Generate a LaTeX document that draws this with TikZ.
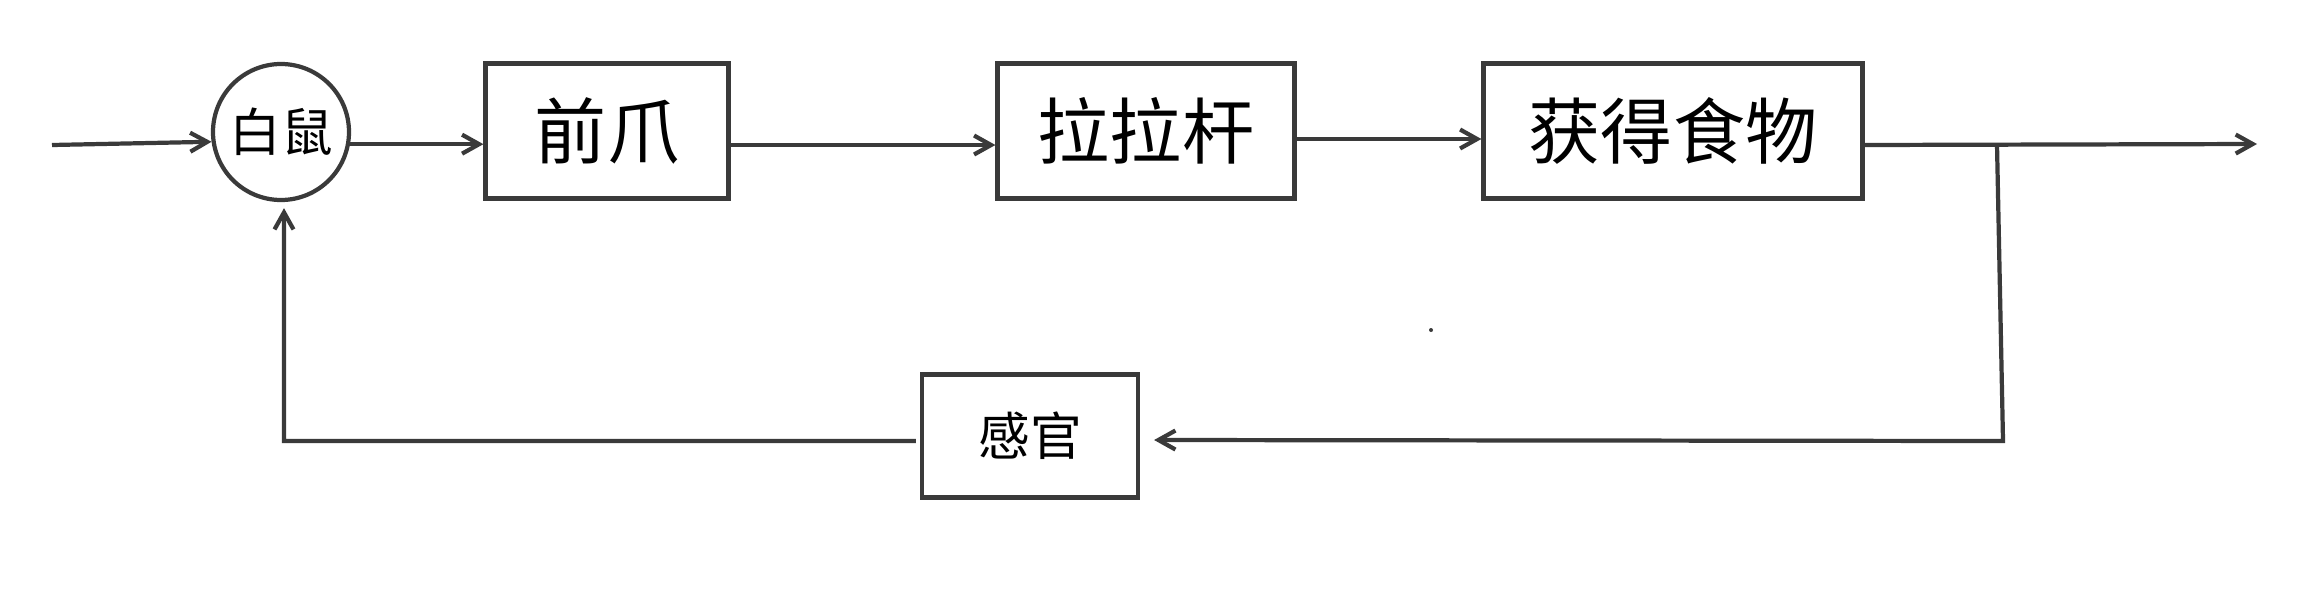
\documentclass[tikz,border=0pt]{standalone}
\usepackage{fontspec}
\newfontfamily\cjk{Noto Sans CJK SC}
\usepackage{tikz}
\usetikzlibrary{shapes,positioning,arrows.meta}
\definecolor{lngray}{HTML}{3A3A3A}

\begin{document}
\begin{tikzpicture}[>={Straight Barb[length=1.7mm,width=1.9mm]}]
\tikzstyle{blk}=[draw=lngray,line width=1.2pt,minimum height=1.35cm,text=black,font=\cjk\fontsize{20.5}{24}\selectfont]
\tikzstyle{circ}=[draw=lngray,line width=1.2pt,circle,minimum size=1.36cm,inner sep=0pt,text=black,font=\cjk\fontsize{14.7}{18}\selectfont]
\tikzstyle{ln}=[draw=lngray,line width=1.2pt]
\useasboundingbox (0,0) rectangle (23.21,6.08);
\node[circ] (mouse) at (2.81,4.76) {白鼠};
\node[blk,minimum width=2.43cm] (paw) at (6.07,4.77) {前爪};
\node[blk,minimum width=2.97cm] (lever) at (11.46,4.77) {拉拉杆};
\node[blk,minimum width=3.79cm] (food) at (16.73,4.77) {获得食物};
\node[blk,minimum width=2.16cm,minimum height=1.23cm,font=\cjk\fontsize{14.7}{18}\selectfont] (sense) at (10.30,1.72) {感官};
\coordinate (in) at (0.52,4.63);
\coordinate (out) at (22.57,4.64);
\coordinate (br) at (19.97,4.63);
\coordinate (brb) at (20.03,1.67);
\coordinate (fb) at (2.84,1.67);
\draw[ln,->] (in) -- (mouse.188);
\draw[ln,->] (mouse.-10) -- (mouse.-10 -| paw.west);
\draw[ln,->] ([yshift=-1.4mm]paw.east) -- ([yshift=-1.4mm]lever.west);
\draw[ln,->] ([yshift=-0.8mm]lever.east) -- ([yshift=-0.8mm]food.west);
\draw[ln,->] ([yshift=-1.4mm]food.east) -- (out);
\draw[ln,->] (br) -- (brb) -- ([xshift=1.4mm,yshift=-0.4mm]sense.east);
\draw[ln,->] ([xshift=-0.4mm,yshift=-0.5mm]sense.west) -- (fb) -- ([yshift=-0.6mm]fb |- mouse.south);
\fill[lngray] (14.31,2.78) circle (0.02);
\end{tikzpicture}
\end{document}
